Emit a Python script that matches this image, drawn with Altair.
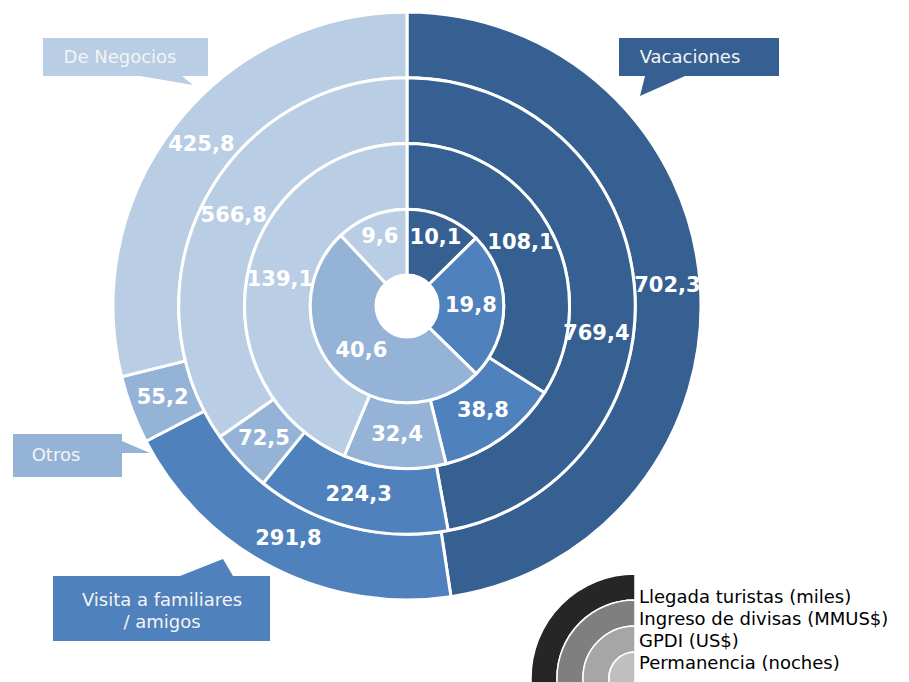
import math
import altair as alt
import pandas as pd

# ---------------- data ----------------
categories = ["Vacaciones", "Visita a familiares / amigos", "Otros", "De Negocios"]
cat_colors = ["#376092", "#4F81BD", "#95B3D7", "#B9CDE5"]

rings = ["Llegada turistas (miles)", "Ingreso de divisas (MMUS$)", "GPDI (US$)", "Permanencia (noches)"]
ring_colors = ["#262626", "#7F7F7F", "#A6A6A6", "#BFBFBF"]

llegada = [702.3, 291.8, 55.2, 425.8]
ingreso = [769.4, 224.3, 72.5, 566.8]
gpdi = [108.1, 38.8, 32.4, 139.1]
permanencia = [10.1, 19.8, 40.6, 9.6]
series = [llegada, ingreso, gpdi, permanencia]

rows = []
for ri, (ring, vals) in enumerate(zip(rings, series)):
    for ci, (cat, v) in enumerate(zip(categories, vals)):
        rows.append({"ring": ring, "level": 3 - ri, "cat": cat, "order": ci,
                     "value": v, "label": f"{v:.1f}".replace(".", ",")})
df = pd.DataFrame(rows)

leg_df = pd.DataFrame({"ring": rings, "level": [3, 2, 1, 0]})

# ---------------- main donut ----------------
CX, CY = 399, 298
theta_scale = alt.Scale(domain=[0, 1], range=[0, 2 * math.pi])
rad_scale = alt.Scale(type="linear", domain=[0, 4], range=[31, 294], zero=False)

base = alt.Chart(df).transform_joinaggregate(
    total="sum(value)", groupby=["ring"]
).transform_window(
    cum="sum(value)", sort=[alt.SortField("order")], groupby=["ring"], frame=[None, 0]
).transform_calculate(
    f0="(datum.cum - datum.value) / datum.total",
    f1="datum.cum / datum.total",
    fm="(datum.cum - datum.value / 2) / datum.total",
    r0="datum.level",
    r1="datum.level + 1",
    rm="datum.level + 0.5",
)

arcs = base.mark_arc(stroke="white", strokeWidth=3).encode(
    x=alt.value(CX), y=alt.value(CY),
    theta=alt.Theta("f0:Q", scale=theta_scale, stack=None), theta2="f1:Q",
    radius=alt.Radius("r1:Q", scale=rad_scale), radius2="r0:Q",
    color=alt.Color("cat:N", scale=alt.Scale(domain=categories, range=cat_colors), legend=None),
)

# label placement tweaks (angle offset in radians, radius offset in px), as in the original layout
label_nudges = {"769,4": (0.236, -4), "9,6": (0.0, 10), "10,1": (0.0, 10)}

def label_layer(filter_expr, theta_off=0.0, radius_off=0.0):
    return base.transform_filter(filter_expr).mark_text(
        font="DejaVu Sans", fontSize=21, fontWeight="bold", color="white",
        align="center", baseline="middle", thetaOffset=theta_off, radiusOffset=radius_off,
    ).encode(
        x=alt.value(CX), y=alt.value(CY),
        theta=alt.Theta("fm:Q", scale=theta_scale, stack=None),
        radius=alt.Radius("rm:Q", scale=rad_scale),
        text="label:N",
    )

nudged = list(label_nudges.keys())
label_layers = [label_layer("indexof(" + str(nudged).replace("'", '"') + ", datum.label) < 0")]
for lab, (to, ro) in label_nudges.items():
    label_layers.append(label_layer(f'datum.label == "{lab}"', to, ro))

# ---------------- legend (quarter rings) ----------------
LX, LY = 627, 670
leg_arcs = alt.Chart(leg_df).transform_calculate(
    r0="datum.level", r1="datum.level + 1"
).mark_arc(stroke="white", strokeWidth=1.5).encode(
    x=alt.value(LX), y=alt.value(LY),
    theta=alt.value(math.pi), theta2=alt.value(2 * math.pi),
    radius=alt.Radius("r1:Q", scale=alt.Scale(type="linear", domain=[0, 4], range=[0, 104], zero=False)),
    radius2="r0:Q",
    color=alt.Color("ring:N", scale=alt.Scale(domain=rings, range=ring_colors), legend=None),
)

leg_text = alt.Chart(leg_df).mark_text(align="left", baseline="alphabetic",
                                       font="DejaVu Sans", fontSize=18, color="black").encode(
    x=alt.value(631),
    y=alt.Y("ring:N", scale=alt.Scale(type="point", domain=rings, range=[595, 661], padding=0), axis=None),
    text="ring:N",
)

# ---------------- callouts ----------------
dummy = pd.DataFrame({"a": [0]})

def poly(pts):
    return "M" + " L".join(f"{x},{y}" for x, y in pts) + " Z"

callout_shapes = [
    (poly([(611, 30), (771, 30), (771, 68), (677, 68), (632, 88), (637, 68), (611, 68)]), cat_colors[0]),
    (poly([(45, 568), (172, 568), (215, 551), (225, 568), (262, 568), (262, 633), (45, 633)]), cat_colors[1]),
    (poly([(5, 426), (114, 426), (114, 433), (142, 445), (114, 445), (114, 469), (5, 469)]), cat_colors[2]),
    (poly([(35, 30), (200, 30), (200, 68), (174, 68), (185, 77), (132, 68), (35, 68)]), cat_colors[3]),
]
callouts = [
    alt.Chart(dummy).mark_point(shape=p, size=4, filled=True, opacity=1, fill=c, strokeWidth=0).encode(
        x=alt.value(0), y=alt.value(0))
    for p, c in callout_shapes
]

callout_text_pos = [(682, 50), (154, 598), (48, 448), (112, 50)]
callout_texts = []
for i, (tx, ty) in enumerate(callout_text_pos):
    name = categories[i]
    if i == 1:
        name = "Visita a familiares\n/ amigos"
        t = alt.Chart(dummy).mark_text(font="DejaVu Sans", fontSize=18, color="#F4F4F4", align="center",
                                       baseline="alphabetic", lineBreak="\n", lineHeight=22)
    else:
        t = alt.Chart(dummy).mark_text(font="DejaVu Sans", fontSize=18, color="#F4F4F4", align="center",
                                       baseline="middle")
    callout_texts.append(t.encode(x=alt.value(tx), y=alt.value(ty), text=alt.value(name)))

chart = alt.layer(
    arcs, *label_layers, leg_arcs, leg_text, *callouts, *callout_texts
).resolve_scale(
    color="independent", radius="independent", theta="independent", y="independent"
).properties(
    width=893, height=674, padding=0, autosize="none", background="white"
).configure_view(stroke=None)

chart.save("out.html", embed_options={"renderer": "svg", "actions": False})
